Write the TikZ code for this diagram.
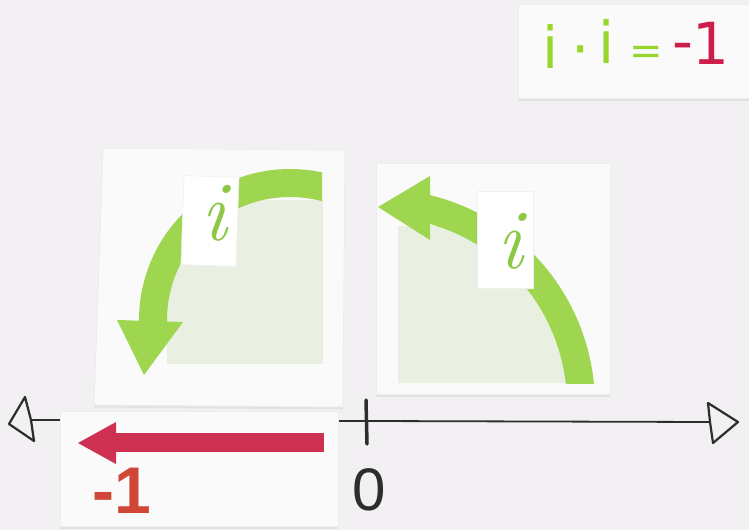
\documentclass[tikz,border=0pt]{standalone}
\usepackage{fontspec}
\newfontfamily\handfont{DejaVu Sans}
\newfontfamily\cardfont{Liberation Sans}
\definecolor{bg}{RGB}{243,240,244}
\definecolor{cardw}{RGB}{251,250,251}
\definecolor{arcgreen}{RGB}{158,214,80}
\definecolor{lightgreen}{RGB}{233,240,225}
\definecolor{tagigreen}{RGB}{140,200,70}
\definecolor{limegreen}{RGB}{150,214,45}
\definecolor{markred}{RGB}{205,30,75}
\definecolor{arrowred}{RGB}{205,48,80}
\definecolor{numred}{RGB}{208,70,55}
\definecolor{ink}{RGB}{45,45,45}
\begin{document}
\begin{tikzpicture}[x=1pt,y=-1pt,
  cardbox/.style={fill=cardw,draw=black!7,line width=1pt},
  cardshadow/.style={fill=black,opacity=0.06},
  band/.style={draw=arcgreen,line width=28pt,line cap=butt},
  tagbox/.style={fill=white,draw=black!6,line width=0.6pt,inner sep=0pt},
  tagi/.style={text=tagigreen,font=\fontsize{85}{85}\selectfont\itshape,inner sep=0pt},
  fml/.style={font=\handfont\fontsize{58}{58}\selectfont,inner sep=0pt,anchor=base},
  headline/.style={draw=ink,line width=2.2pt,line join=round},
]
\useasboundingbox (0,0) rectangle (749,530);
\fill[bg] (0,0) rectangle (749,530);

% ---------- formula card ----------
\fill[cardshadow] (518,6.5) rectangle (752,100.5);
\fill[cardbox] (518,4) rectangle (752,98);
\node[fml,text=limegreen] (fi1) at (551,68) {i};
\node[fml,text=limegreen] (fdot) at (581,69) {·};
\node[fml,text=limegreen] (fi2) at (607,63) {i};
\node[fml,text=limegreen,font=\handfont\fontsize{40}{40}\selectfont] (feq) at (646,64) {=};
\node[fml,text=markred] (fminus) at (683,61) {-};
\node[fml,text=markred] (fone) at (711,64) {1};

% ---------- left card ----------
\fill[cardshadow,shift={(0,2.5)}] (103,148) -- (345,150) -- (343,407) -- (94,405) -- cycle;
\fill[cardbox] (103,148) -- (345,150) -- (343,407) -- (94,405) -- cycle;
\begin{scope}
  \clip (167,200) rectangle (323,363);
  \fill[lightgreen] (290,320) circle (137);
  \fill[lightgreen] (167,320) rectangle (323,363);
\end{scope}
\begin{scope}
  \clip (100,150) rectangle (322,400);
  \draw[band] plot[domain=178:290,samples=80] ({290+137*cos(\x)},{320+137*sin(\x)});
\end{scope}
\fill[arcgreen] (117,320) -- (183,322) -- (144,375) -- cycle;
\node[tagbox,minimum width=55pt,minimum height=89pt,rotate=-2] (tagL) at (210,221) {};
\node[tagi] (iL) at (214,213) {i};

% ---------- right card ----------
\fill[cardshadow] (376,165.5) rectangle (610,396.5);
\fill[cardbox] (376,163) rectangle (610,394);
\begin{scope}
  \clip (398,226) rectangle (600,382);
  \fill[lightgreen] (379,405) circle (202);
\end{scope}
\begin{scope}
  \clip (370,150) rectangle (620,383);
  \draw[band] plot[domain=283:360,samples=80] ({379+202*cos(\x)},{405+202*sin(\x)});
\end{scope}
\fill[arcgreen] (430,176) -- (378,207) -- (430,240) -- cycle;
\node[tagbox,minimum width=56pt,minimum height=97pt] (tagR) at (505,240) {};
\node[tagi] (iR) at (510,241) {i};

% ---------- number line ----------
\coordinate (nlL) at (31,420);
\coordinate (nlR) at (710,422);
\draw[ink,line width=1.8pt] (nlL) -- (nlR);
\draw[headline] (25,397) -- (9,424) -- (34,441) -- (nlL) -- cycle;
\draw[headline] (708,403) -- (738,422) -- (713,443) -- (nlR) -- cycle;
\coordinate (tickT) at (366,400);
\coordinate (tickB) at (367,444);
\draw[ink,line width=3.5pt,line cap=round] (tickT) -- (tickB);
\node[font=\cardfont\fontsize{60}{60}\selectfont,text=ink,anchor=base,inner sep=0pt] (zero) at (369,510) {0};

% ---------- -1 card ----------
\fill[cardshadow] (60,413.5) rectangle (338,528.5);
\fill[cardbox] (60,411) rectangle (338,526);
\fill[arrowred] (112,433) rectangle (324,452);
\fill[arrowred] (116,422) -- (78,443) -- (116,464) -- cycle;
\node[font=\cardfont\bfseries\fontsize{66}{66}\selectfont,text=numred,anchor=base west,inner sep=0pt] (mone) at (92,513) {-1};
\end{tikzpicture}
\end{document}
